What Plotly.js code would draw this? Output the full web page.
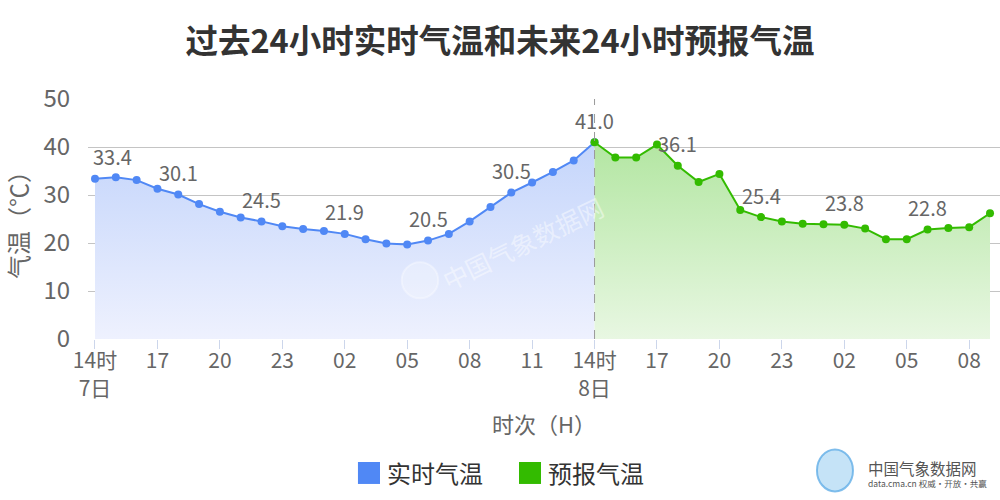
<!DOCTYPE html>
<html><head><meta charset="utf-8">
<script src="https://cdn.plot.ly/plotly-3.0.1.min.js"></script>
<style>html,body{margin:0;padding:0;background:#fff}#c{width:1000px;height:500px}</style>
</head><body><div id="c"></div>
<script>
// hours since 14时 7日
const pastHours = [0,1,2,3,4,5,6,7,8,9,10,11,12,13,14,15,16,17,18,19,20,21,22,23,24];
const pastTemps = [33.4,33.7,33.1,31.3,30.1,28.1,26.5,25.3,24.5,23.5,22.9,22.5,21.9,20.8,19.9,19.7,20.5,21.9,24.5,27.5,30.5,32.6,34.8,37.2,41.0];
const fcstHours = [24,25,26,27,28,29,30,31,32,33,34,35,36,37,38,39,40,41,42,43];
const fcstTemps = [41.0,37.8,37.8,40.5,36.1,32.7,34.4,26.9,25.4,24.5,24.0,23.9,23.8,23.0,20.8,20.8,22.8,23.1,23.3,26.2];
const tickVals = [0,3,6,9,12,15,18,21,24,27,30,33,36,39,42];
const tickText = ['14时<br>7日','17','20','23','02','05','08','11','14时<br>8日','17','20','23','02','05','08'];
const yTicks = [0,10,20,30,40,50];
const seriesNames = ['实时气温','预报气温'];
const blue = '#5088f5', green = '#33bb00';
const FONT = '"Noto Sans CJK SC", "Noto Sans", sans-serif';

const traces = [
  {x: pastHours, y: pastTemps, type:'scatter', mode:'lines+markers', name: seriesNames[0],
   line:{color:blue, width:2}, marker:{color:blue, size:8},
   fill:'tozeroy', fillgradient:{type:'vertical', start:0, stop:41, colorscale:[[0,'#eef1fe'],[1,'#c4d5fb']]},
   showlegend:false, hoverinfo:'x+y'},
  {x: fcstHours, y: fcstTemps, type:'scatter', mode:'lines+markers', name: seriesNames[1],
   line:{color:green, width:2}, marker:{color:green, size:8},
   fill:'tozeroy', fillgradient:{type:'vertical', start:0, stop:41, colorscale:[[0,'#e8f7e2'],[1,'#b3e6a2']]},
   showlegend:false, hoverinfo:'x+y'}
];

const annotations = [];
// watermark (drawn first, faint)
annotations.push({xref:'paper', yref:'paper', x:0.476, y:0.40, text:'中国气象数据网', showarrow:false,
  textangle:-26, font:{size:25, color:'rgba(255,255,255,0.45)', family:FONT}});

function addLabels(xs, ys, step, skipLast) {
  for (let i = 0; i < xs.length; i += step) {
    if (skipLast && i === xs.length - 1) continue;
    annotations.push({x: xs[i], y: ys[i], xref:'x', yref:'y', text: ys[i].toFixed(1),
      showarrow:false, yshift:22, xanchor: i===0 && xs[i]===0 ? 'left' : 'center',
      xshift: i===0 && xs[i]===0 ? -4 : 0,
      font:{size:20, color:'#666', family:FONT}});
  }
}
addLabels(pastHours, pastTemps, 4, true);
addLabels(fcstHours, fcstTemps, 4, false);

// legend (manual)
const legendY = -0.558;
annotations.push({xref:'paper', yref:'paper', x:0.3257, y:legendY, xanchor:'left', yanchor:'middle',
  text:seriesNames[0], showarrow:false, font:{size:24, color:'#333', family:FONT}});
annotations.push({xref:'paper', yref:'paper', x:0.5022, y:legendY, xanchor:'left', yanchor:'middle',
  text:seriesNames[1], showarrow:false, font:{size:24, color:'#333', family:FONT}});
// logo text
annotations.push({xref:'paper', yref:'paper', x:0.853, y:-0.538, xanchor:'left', yanchor:'middle',
  text:'中国气象数据网', showarrow:false, font:{size:15.5, color:'#555', family:FONT}});
annotations.push({xref:'paper', yref:'paper', x:0.853, y:-0.600, xanchor:'left', yanchor:'middle',
  text:'data.cma.cn 权威·开放·共赢', showarrow:false, font:{size:8.5, color:'#555', family:FONT}});

const shapes = [
  // watermark logo circle
  {type:'circle', xref:'paper', yref:'paper', x0:0.344, x1:0.384, y0:0.32, y1:0.17, fillcolor:'rgba(255,255,255,0.25)', line:{color:'rgba(255,255,255,0.35)', width:2}},
  {type:'line', xref:'x', yref:'paper', x0:24, x1:24, y0:0, y1:1, line:{color:'#999', width:1, dash:'dash'}},
  {type:'rect', xref:'paper', yref:'paper', x0:0.296, x1:0.3202, y0:-0.5125, y1:-0.604, fillcolor:blue, line:{width:0}},
  {type:'rect', xref:'paper', yref:'paper', x0:0.4726, x1:0.4967, y0:-0.5125, y1:-0.604, fillcolor:green, line:{width:0}},
  {type:'circle', xref:'paper', yref:'paper', x0:0.7993, x1:0.8388, y0:-0.46, y1:-0.635, fillcolor:'rgba(140,200,240,0.5)', line:{color:'rgba(90,170,230,0.75)', width:2}}
];

const layout = {
  width:1000, height:500,
  margin:{l:88, r:0, t:99, b:161},
  paper_bgcolor:'#fff', plot_bgcolor:'#fff',
  font:{family:FONT, color:'#666'},
  title:{text:'<b>过去24小时实时气温和未来24小时预报气温</b>', x:0.5, xref:'container', y:0.916, yanchor:'middle',
    font:{size:32.5, color:'#333', family:FONT}},
  xaxis:{range:[-0.336, 43.48], tickmode:'array', tickvals:tickVals, ticktext:tickText,
    showgrid:false, zeroline:false, showline:false, ticks:'outside', ticklen:9, tickcolor:'#ccd6eb',
    ticklabelstandoff:-6,
    tickfont:{size:21, color:'#666', family:FONT},
    title:{text:'时次（H）', standoff:17, font:{size:22, color:'#666', family:FONT}}},
  yaxis:{range:[0,50], tickmode:'array', tickvals:yTicks, showgrid:true, gridcolor:'#c4c4c4', gridwidth:1,
    zeroline:false, showline:false, ticks:'outside', ticklen:12, tickcolor:'rgba(0,0,0,0)',
    tickfont:{size:24, color:'#666', family:FONT},
    title:{text:'气温（℃）', standoff:10, font:{size:24, color:'#666', family:FONT}}},
  showlegend:false,
  annotations: annotations,
  shapes: shapes
};
Plotly.newPlot('c', traces, layout, {displayModeBar:false, staticPlot:true});
</script></body></html>
